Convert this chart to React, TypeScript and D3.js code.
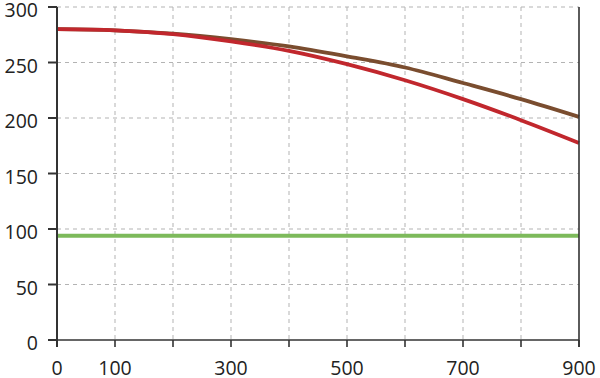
import React from "react";
import * as d3 from "d3";

const xValues = [0, 100, 200, 300, 400, 500, 600, 700, 800, 900];
const redSeries = [280, 279, 275.5, 269, 260.5, 248.5, 234, 217, 198, 177.5];
const brownSeries = [280, 279, 276, 271, 264.5, 255.5, 245.5, 231.5, 217, 201];
const greenSeries = [94, 94, 94, 94, 94, 94, 94, 94, 94, 94];
const xTickValues = [0, 100, 200, 300, 400, 500, 600, 700, 800, 900];
const xTickLabels = ["0", "100", "", "300", "", "500", "", "700", "", "900"];
const yTickValues = [0, 50, 100, 150, 200, 250, 300];

const W = 600;
const H = 378;
const left = 57;
const right = 579;
const top = 7;
const bottom = 340;

export default function App() {
  const x = d3.scaleLinear().domain([0, 900]).range([left, right]);
  const y = d3.scaleLinear().domain([0, 300]).range([bottom, top]);
  const line = d3
    .line<number>()
    .x((_, i) => x(xValues[i]))
    .y((d) => y(d))
    .curve(d3.curveMonotoneX);

  const font = "'Open Sans', 'Noto Sans', sans-serif";
  const axisColor = "#333";
  const gridColor = "#b3b3b3";

  return (
    <svg
      width={W}
      height={H}
      style={{ position: "absolute", left: 0, top: 0, background: "#fff" }}
      fontFamily={font}
    >
      {/* vertical grid */}
      {xTickValues
        .filter((v) => v > 0 && v < 900)
        .map((v) => (
          <line
            key={"vx" + v}
            x1={x(v)}
            x2={x(v)}
            y1={top}
            y2={bottom}
            stroke={gridColor}
            strokeWidth={1}
            strokeDasharray="4,4"
          />
        ))}
      {/* horizontal grid */}
      {yTickValues
        .filter((v) => v > 0)
        .map((v) => (
          <line
            key={"hy" + v}
            x1={left}
            x2={right}
            y1={y(v)}
            y2={y(v)}
            stroke={gridColor}
            strokeWidth={1}
            strokeDasharray="4,4"
          />
        ))}

      {/* series */}
      <path d={line(greenSeries) || ""} fill="none" stroke="#7dba5b" strokeWidth={4} />
      <path d={line(brownSeries) || ""} fill="none" stroke="#7a4d2f" strokeWidth={3.8} />
      <path d={line(redSeries) || ""} fill="none" stroke="#c1272d" strokeWidth={3.8} />

      {/* axes */}
      <line x1={left} x2={left} y1={top} y2={bottom + 7} stroke={axisColor} strokeWidth={2} />
      <line x1={left} x2={right} y1={bottom} y2={bottom} stroke={axisColor} strokeWidth={1.6} />
      <line x1={right} x2={right} y1={top} y2={bottom + 7} stroke={axisColor} strokeWidth={1.6} />

      {yTickValues.map((v) => (
        <g key={"yt" + v}>
          <line x1={left - 9} x2={left} y1={y(v)} y2={y(v)} stroke={axisColor} strokeWidth={2} />
          <text
            x={38}
            y={y(v) + 10}
            textAnchor="end"
            fontSize={19.5}
            fill="#222"
          >
            {v}
          </text>
        </g>
      ))}

      {xTickValues.map((v, i) => (
        <g key={"xt" + v}>
          <line x1={x(v)} x2={x(v)} y1={bottom} y2={bottom + 7} stroke={axisColor} strokeWidth={1.6} />
          {xTickLabels[i] && (
            <text
              x={x(v)}
              y={374.5}
              textAnchor="middle"
              fontSize={19.5}
              fill="#222"
            >
              {xTickLabels[i]}
            </text>
          )}
        </g>
      ))}
    </svg>
  );
}
